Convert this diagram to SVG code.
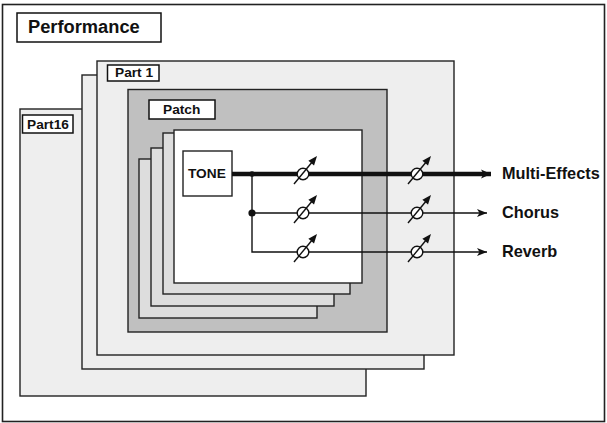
<svg xmlns="http://www.w3.org/2000/svg" width="607" height="423" viewBox="0 0 607 423">
<style>
.frame{stroke:#222;stroke-width:1.4}
.part{fill:#eeeeee}
.patch{fill:#c0c0c0}
.tone{fill:#dddddd}
.lbl{fill:#fff;stroke:#111;stroke-width:1.5}
text{font-family:"Liberation Sans",Arial,sans-serif;font-weight:bold;fill:#111}
.thin{stroke:#111;stroke-width:1.4;fill:none}
.thick{stroke:#111;stroke-width:4.5;fill:none}
</style>
<defs>
<marker id="ahThick" markerUnits="userSpaceOnUse" markerWidth="12" markerHeight="12" viewBox="0 -6 12 12" refX="10" refY="0" orient="auto">
<path d="M0,-4.5 L10,0 L0,4.5 L2.5,0 Z" fill="#111"/>
</marker>
<marker id="ahThin" markerUnits="userSpaceOnUse" markerWidth="12" markerHeight="12" viewBox="0 -6 12 12" refX="10" refY="0" orient="auto">
<path d="M0,-4 L10,0 L0,4 L2.5,0 Z" fill="#111"/>
</marker>
<g id="knob">
<circle cx="0" cy="0" r="5.8" fill="#fff" stroke="#111" stroke-width="1.4"/>
<line x1="-9" y1="10" x2="10" y2="-13" stroke="#111" stroke-width="1.4"/>
<polygon points="14,-18 11,-8.6 5.4,-13.2" fill="#111"/>
</g>
</defs>
<rect id="performance" x="2.5" y="4.5" width="602" height="417" fill="#fff" stroke="#222" stroke-width="1.6"/>
<g id="performance-label">
<rect class="lbl" x="17" y="13" width="144" height="29" stroke-width="2.6"/>
<text x="28" y="33" font-size="18.3">Performance</text>
</g>
<g id="part16">
<rect class="frame part" x="20" y="109" width="346" height="287"/>
<rect class="lbl" x="22.5" y="115" width="50.5" height="18"/>
<text x="27" y="128.5" font-size="13.7">Part16</text>
</g>
<g id="part-mid">
<rect class="frame part" x="82" y="75" width="342" height="294"/>
</g>
<g id="part1">
<rect class="frame part" x="97" y="61" width="357" height="294"/>
<rect class="lbl" x="107.5" y="65" width="51.5" height="16"/>
<text x="115" y="77" font-size="13.7">Part 1</text>
</g>
<g id="patch">
<rect class="frame patch" x="128" y="89.5" width="259" height="242.5"/>
<rect class="lbl" x="149" y="100" width="66" height="19"/>
<text x="163" y="114" font-size="13.7">Patch</text>
</g>
<g id="tone-stack">
<rect class="frame tone" x="139" y="159" width="178" height="159"/>
<rect class="frame tone" x="151" y="148" width="183" height="158"/>
<rect class="frame tone" x="163" y="133" width="187" height="161"/>
<rect class="frame" fill="#fff" x="174" y="130" width="188" height="153"/>
</g>
<g id="tone">
<rect class="frame" fill="#fff" x="183" y="151" width="49" height="45"/>
<text x="188" y="178" font-size="13.7">TONE</text>
</g>
<g id="connectors">
<line class="thick" x1="232" y1="174" x2="491" y2="174" marker-end="url(#ahThick)"/>
<polyline class="thin" points="252,174 252,252 487,252" marker-end="url(#ahThin)"/>
<line class="thin" x1="252" y1="213" x2="487" y2="213" marker-end="url(#ahThin)"/>
<circle cx="252" cy="174" r="2.8" fill="#111"/>
<circle cx="252" cy="213" r="3.6" fill="#111"/>
</g>
<g id="knobs">
<use href="#knob" x="303" y="174"/>
<use href="#knob" x="303" y="213"/>
<use href="#knob" x="303" y="252"/>
<use href="#knob" x="417" y="174"/>
<use href="#knob" x="417" y="213"/>
<use href="#knob" x="417" y="252"/>
</g>
<g id="outputs">
<text x="502" y="179" font-size="16.3">Multi-Effects</text>
<text x="502" y="218" font-size="16.3">Chorus</text>
<text x="502" y="257" font-size="16.3">Reverb</text>
</g>
</svg>
